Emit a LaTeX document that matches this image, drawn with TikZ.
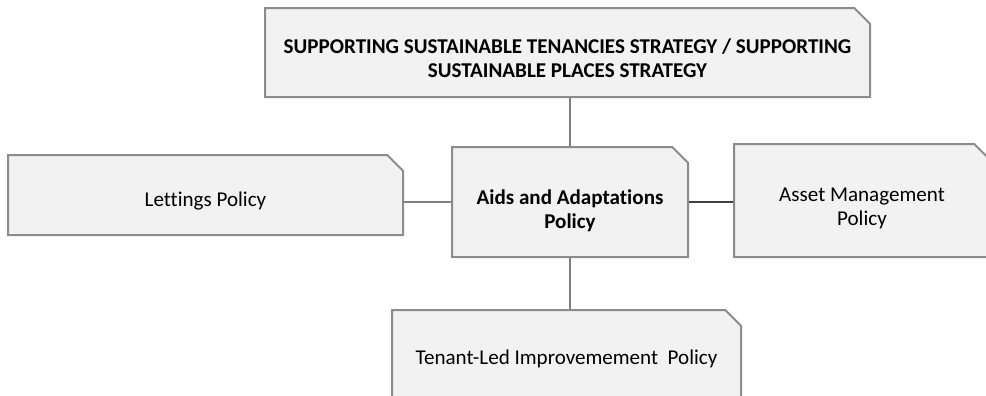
\documentclass[tikz,border=0pt]{standalone}
\usepackage{fontspec}
\setmainfont{Carlito}[Ligatures=NoCommon]
\usepackage{xcolor}
\usepackage{tikz}
\usetikzlibrary{shapes.misc}
\definecolor{boxfill}{HTML}{F2F2F2}
\definecolor{boxline}{HTML}{8C8C8C}
\definecolor{linkgray}{HTML}{808080}
\tikzstyle{policy}=[chamfered rectangle,chamfered rectangle corners=north east,
  chamfered rectangle xsep=5.9pt,chamfered rectangle ysep=5.9pt,
  draw=boxline,fill=boxfill,line width=1.5pt,inner sep=0pt,align=center,
  font=\fontsize{15.8}{18}\selectfont]
\tikzstyle{link}=[linkgray,line width=1.5pt]
\newcommand{\dropline}[1]{\rule{0pt}{#1}}

\begin{document}
\begin{tikzpicture}[x=0.75pt,y=-0.75pt]
  \useasboundingbox (0,0) rectangle (986,396);
  \clip (0,0) rectangle (986,396);
  \node at (567.5, 52.5) [policy,minimum width=453.75pt,minimum height=66.75pt] (Strategy)
    {\dropline{19pt}\bfseries SUPPORTING SUSTAINABLE TENANCIES STRATEGY / SUPPORTING\\\bfseries SUSTAINABLE PLACES STRATEGY};
  \node at (205.5,195) [policy,minimum width=296.25pt,minimum height=60pt] (Lettings) {\dropline{19.5pt}Lettings Policy};
  \node at (570,202) [policy,minimum width=177pt,minimum height=82.5pt] (Aids)
    {\dropline{24pt}\bfseries Aids and Adaptations\\\bfseries Policy};
  \node at (862,200.5) [policy,minimum width=192pt,minimum height=84.75pt] (Asset)
    {\dropline{22pt}Asset Management\\Policy};
  \node at (566.5,359) [policy,minimum width=261.75pt,minimum height=73.5pt] (Tenant)
    {Tenant-Led Improvemement~ Policy};
  \draw [link] (Aids.north) -- (Aids.north |- Strategy.south);
  \draw [link] (Aids.south) -- (Aids.south |- Tenant.north);
  \draw [link] (Aids.west) -- (Aids.west -| Lettings.east);
  \draw [link,black!75,line width=1pt] (Aids.east) -- (Aids.east -| Asset.west);
\end{tikzpicture}
\end{document}
